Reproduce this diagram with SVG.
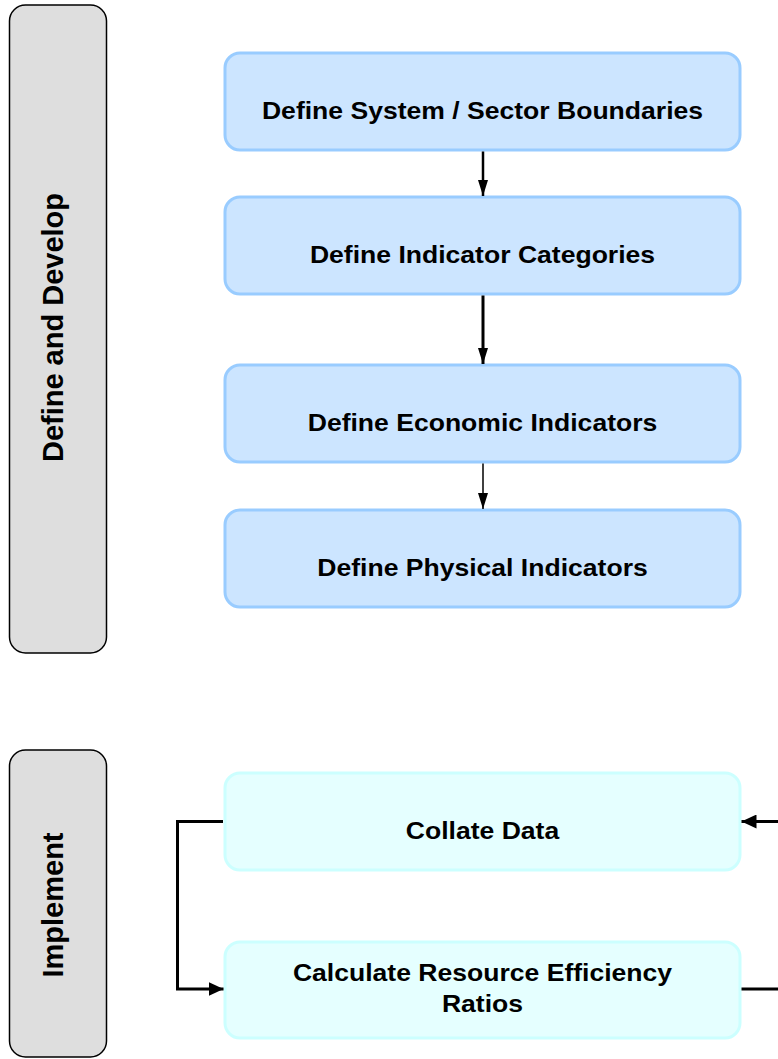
<svg xmlns="http://www.w3.org/2000/svg" width="778" height="1059" viewBox="0 0 778 1059">
  <style>
    .phase { fill: #dedede; stroke: #000; stroke-width: 1.5; }
    .step { fill: #cce5ff; stroke: #99ccff; stroke-width: 3; }
    .impl { fill: #e5ffff; stroke: #ccffff; stroke-width: 3; }
    .label { font-family: "Liberation Sans", Arial, sans-serif; font-weight: bold; font-size: 23px; fill: #000; text-anchor: middle; }
    .side { font-size: 29px; }
    .conn { fill: none; stroke: #000; }
  </style>
  <defs>
    <marker id="arrow" viewBox="0 0 16 10" refX="16" refY="5" markerWidth="16" markerHeight="10" markerUnits="userSpaceOnUse" orient="auto">
      <path d="M0,0 L16,5 L0,10 z" fill="#000"/>
    </marker>
    <marker id="arrowBig" viewBox="0 0 15 14" refX="15" refY="7" markerWidth="15" markerHeight="14" markerUnits="userSpaceOnUse" orient="auto">
      <path d="M0,0 L15,7 L0,14 z" fill="#000"/>
    </marker>
  </defs>

  <!-- phase bands -->
  <g id="phase-define">
    <rect class="phase" x="9.5" y="5" width="97" height="648" rx="16" ry="16"/>
    <text class="label side" transform="translate(63,327.5) rotate(-90)">Define and Develop</text>
  </g>
  <g id="phase-implement">
    <rect class="phase" x="9.5" y="750" width="97" height="307" rx="16" ry="16"/>
    <text class="label side" transform="translate(63,905) rotate(-90)">Implement</text>
  </g>

  <!-- process steps; labels are set in a widened face -->
  <g id="step-boundaries">
    <rect class="step" x="225" y="53" width="515" height="97" rx="15" ry="15"/>
    <text class="label" transform="translate(482.5,118.5) scale(1.155,1)">Define System / Sector Boundaries</text>
  </g>
  <g id="step-categories">
    <rect class="step" x="225" y="197" width="515" height="97" rx="15" ry="15"/>
    <text class="label" transform="translate(482.5,262.5) scale(1.155,1)">Define Indicator Categories</text>
  </g>
  <g id="step-economic">
    <rect class="step" x="225" y="365" width="515" height="97" rx="15" ry="15"/>
    <text class="label" transform="translate(482.5,430.5) scale(1.155,1)">Define Economic Indicators</text>
  </g>
  <g id="step-physical">
    <rect class="step" x="225" y="510" width="515" height="97" rx="15" ry="15"/>
    <text class="label" transform="translate(482.5,575.5) scale(1.155,1)">Define Physical Indicators</text>
  </g>
  <g id="step-collate">
    <rect class="impl" x="225" y="773" width="515" height="97" rx="15" ry="15"/>
    <text class="label" transform="translate(482.5,838.5) scale(1.155,1)">Collate Data</text>
  </g>
  <g id="step-ratios">
    <rect class="impl" x="225" y="942" width="515" height="96" rx="15" ry="15"/>
    <text class="label" transform="translate(482.5,981) scale(1.155,1)">Calculate Resource Efficiency</text>
    <text class="label" transform="translate(482.5,1012) scale(1.155,1)">Ratios</text>
  </g>

  <!-- connectors -->
  <g id="connectors">
    <line class="conn" x1="483" y1="151.5" x2="483" y2="196" stroke-width="2.5" marker-end="url(#arrow)"/>
    <line class="conn" x1="483" y1="295.5" x2="483" y2="364" stroke-width="3" marker-end="url(#arrow)"/>
    <line class="conn" x1="483" y1="463.5" x2="483" y2="509" stroke-width="1.5" marker-end="url(#arrow)"/>
    <polyline class="conn" points="223,821.5 177.5,821.5 177.5,989 223.5,989" stroke-width="3" marker-end="url(#arrowBig)"/>
    <polyline class="conn" points="741.5,989 790,989 790,821.5 741.5,821.5" stroke-width="3" marker-end="url(#arrowBig)"/>
  </g>
</svg>
